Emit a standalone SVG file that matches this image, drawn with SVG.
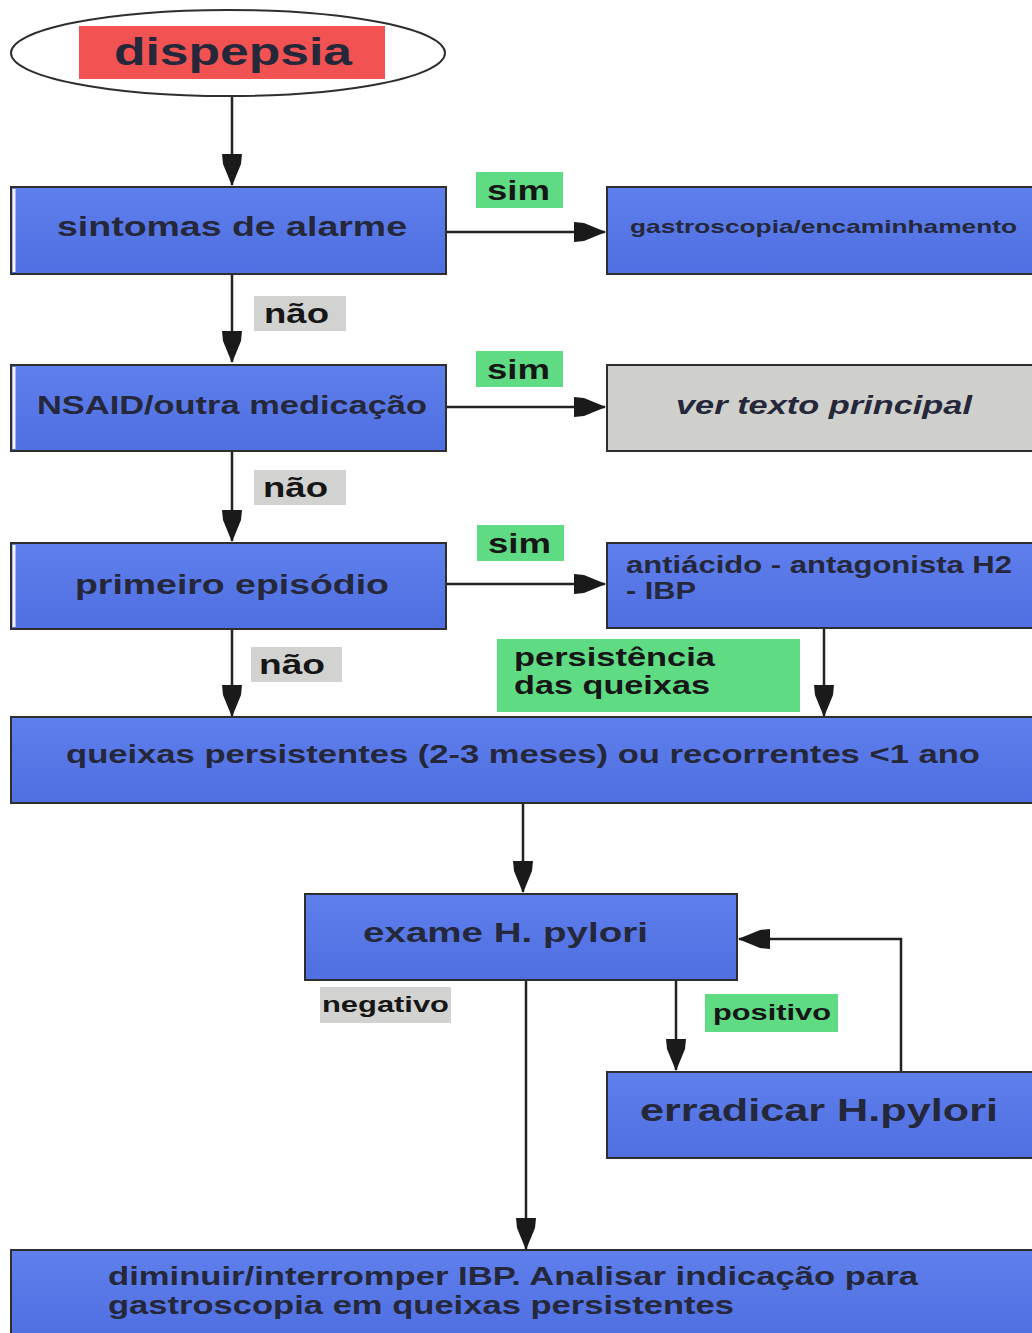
<svg xmlns="http://www.w3.org/2000/svg" width="1032" height="1333" viewBox="0 0 1032 1333">
<defs>
<linearGradient id="blue" x1="0" y1="0" x2="0" y2="1">
<stop offset="0" stop-color="#5f7fec"/>
<stop offset="1" stop-color="#4f6fe2"/>
</linearGradient>
<marker id="arr" viewBox="0 0 32 22" refX="31" refY="11" markerWidth="32" markerHeight="22" markerUnits="userSpaceOnUse" orient="auto">
<path d="M0,1 L10,2 L32,11 L10,20 L0,21 Z" fill="#1a1a1a"/>
</marker>
</defs>
<style>
.box{fill:url(#blue);stroke:#2e2e2e;stroke-width:2}
.gbox{fill:#cfcfcb;stroke:#2e2e2e;stroke-width:2}
.t{font-family:"Liberation Sans",Arial,sans-serif;font-weight:bold;fill:#25283a}
.lg{fill:#5fdb84}
.lgr{fill:#d2d2d0}
.lt{font-family:"Liberation Sans",Arial,sans-serif;font-weight:bold;fill:#161616}
.edge{stroke:#222;stroke-width:2.5;fill:none}
.stripe{stroke:#f4f4f8;stroke-width:3}
</style>
<g id="connectors">
<line class="edge" x1="232" y1="97" x2="232" y2="185" marker-end="url(#arr)"/>
<line class="edge" x1="446" y1="232" x2="605" y2="232" marker-end="url(#arr)"/>
<line class="edge" x1="232" y1="274" x2="232" y2="362" marker-end="url(#arr)"/>
<line class="edge" x1="446" y1="407" x2="605" y2="407" marker-end="url(#arr)"/>
<line class="edge" x1="232" y1="451" x2="232" y2="541" marker-end="url(#arr)"/>
<line class="edge" x1="446" y1="584" x2="605" y2="584" marker-end="url(#arr)"/>
<line class="edge" x1="232" y1="629" x2="232" y2="716" marker-end="url(#arr)"/>
<line class="edge" x1="824" y1="628" x2="824" y2="716" marker-end="url(#arr)"/>
<line class="edge" x1="523" y1="803" x2="523" y2="892" marker-end="url(#arr)"/>
<line class="edge" x1="526" y1="980" x2="526" y2="1249" marker-end="url(#arr)"/>
<line class="edge" x1="676" y1="980" x2="676" y2="1070" marker-end="url(#arr)"/>
<polyline class="edge" points="901,1072 901,939 739,939" marker-end="url(#arr)"/>
</g>
<g id="start">
<ellipse cx="228" cy="53" rx="217" ry="43" fill="#ffffff" stroke="#2e2e2e" stroke-width="2"/>
<rect x="79" y="26" width="306" height="53" fill="#f25252"/>
<text class="t" x="114" y="65" font-size="38" textLength="238" lengthAdjust="spacingAndGlyphs">dispepsia</text>
</g>
<g id="alarme">
<rect class="box" x="11" y="187" width="435" height="87"/>
<line class="stripe" x1="14" y1="189" x2="14" y2="272"/>
<text class="t" x="57" y="236" font-size="28" textLength="350" lengthAdjust="spacingAndGlyphs">sintomas de alarme</text>
</g>
<g id="label-sim1">
<rect class="lg" x="476" y="172" width="87" height="36"/>
<text class="lt" x="487" y="200" font-size="27" textLength="63" lengthAdjust="spacingAndGlyphs">sim</text>
</g>
<g id="gastro">
<rect class="box" x="607" y="187" width="430" height="87"/>
<text class="t" x="630" y="233" font-size="19" textLength="387" lengthAdjust="spacingAndGlyphs">gastroscopia/encaminhamento</text>
</g>
<g id="label-nao1">
<rect class="lgr" x="254" y="296" width="92" height="35"/>
<text class="lt" x="264" y="323" font-size="27" textLength="65" lengthAdjust="spacingAndGlyphs">não</text>
</g>
<g id="nsaid">
<rect class="box" x="11" y="365" width="435" height="86"/>
<line class="stripe" x1="14" y1="367" x2="14" y2="449"/>
<text class="t" x="37" y="414" font-size="26" textLength="390" lengthAdjust="spacingAndGlyphs">NSAID/outra medicação</text>
</g>
<g id="label-sim2">
<rect class="lg" x="476" y="351" width="87" height="36"/>
<text class="lt" x="487" y="379" font-size="27" textLength="63" lengthAdjust="spacingAndGlyphs">sim</text>
</g>
<g id="ver">
<rect class="gbox" x="607" y="365" width="430" height="86"/>
<text class="t" x="676" y="414" font-size="26" font-style="italic" fill="#2a2a2a" textLength="296" lengthAdjust="spacingAndGlyphs">ver texto principal</text>
</g>
<g id="label-nao2">
<rect class="lgr" x="254" y="470" width="92" height="35"/>
<text class="lt" x="263" y="497" font-size="27" textLength="65" lengthAdjust="spacingAndGlyphs">não</text>
</g>
<g id="primeiro">
<rect class="box" x="11" y="543" width="435" height="86"/>
<line class="stripe" x1="14" y1="545" x2="14" y2="627"/>
<text class="t" x="75" y="594" font-size="28" textLength="314" lengthAdjust="spacingAndGlyphs">primeiro episódio</text>
</g>
<g id="label-sim3">
<rect class="lg" x="477" y="525" width="87" height="36"/>
<text class="lt" x="488" y="553" font-size="27" textLength="63" lengthAdjust="spacingAndGlyphs">sim</text>
</g>
<g id="antiacido">
<rect class="box" x="607" y="543" width="430" height="85"/>
<text class="t" x="626" y="573" font-size="23" textLength="386" lengthAdjust="spacingAndGlyphs">antiácido - antagonista H2</text>
<text class="t" x="626" y="599" font-size="23" textLength="70" lengthAdjust="spacingAndGlyphs">- IBP</text>
</g>
<g id="label-nao3">
<rect class="lgr" x="251" y="647" width="91" height="35"/>
<text class="lt" x="259" y="674" font-size="27" textLength="66" lengthAdjust="spacingAndGlyphs">não</text>
</g>
<g id="label-persist">
<rect class="lg" x="497" y="639" width="303" height="73"/>
<text class="lt" x="514" y="666" font-size="26" fill="#1f2a22" textLength="201" lengthAdjust="spacingAndGlyphs">persistência</text>
<text class="lt" x="514" y="694" font-size="26" fill="#1f2a22" textLength="196" lengthAdjust="spacingAndGlyphs">das queixas</text>
</g>
<g id="queixas">
<rect class="box" x="11" y="717" width="1030" height="86"/>
<text class="t" x="66" y="763" font-size="25" textLength="914" lengthAdjust="spacingAndGlyphs">queixas persistentes (2-3 meses) ou recorrentes &lt;1 ano</text>
</g>
<g id="exame">
<rect class="box" x="305" y="894" width="432" height="86"/>
<text class="t" x="363" y="942" font-size="28" textLength="285" lengthAdjust="spacingAndGlyphs">exame H. pylori</text>
</g>
<g id="label-negativo">
<rect class="lgr" x="320" y="987" width="131" height="36"/>
<text class="lt" x="322" y="1012" font-size="22" fill="#2a2a2a" textLength="127" lengthAdjust="spacingAndGlyphs">negativo</text>
</g>
<g id="label-positivo">
<rect class="lg" x="705" y="994" width="133" height="38"/>
<text class="lt" x="713" y="1020" font-size="22" fill="#1f2a22" textLength="118" lengthAdjust="spacingAndGlyphs">positivo</text>
</g>
<g id="erradicar">
<rect class="box" x="607" y="1072" width="430" height="86"/>
<text class="t" x="640" y="1121" font-size="32" textLength="358" lengthAdjust="spacingAndGlyphs">erradicar H.pylori</text>
</g>
<g id="diminuir">
<rect class="box" x="11" y="1250" width="1030" height="90"/>
<text class="t" x="108" y="1285" font-size="25" textLength="810" lengthAdjust="spacingAndGlyphs">diminuir/interromper IBP. Analisar indicação para</text>
<text class="t" x="108" y="1314" font-size="25" textLength="626" lengthAdjust="spacingAndGlyphs">gastroscopia em queixas persistentes</text>
</g>
</svg>
